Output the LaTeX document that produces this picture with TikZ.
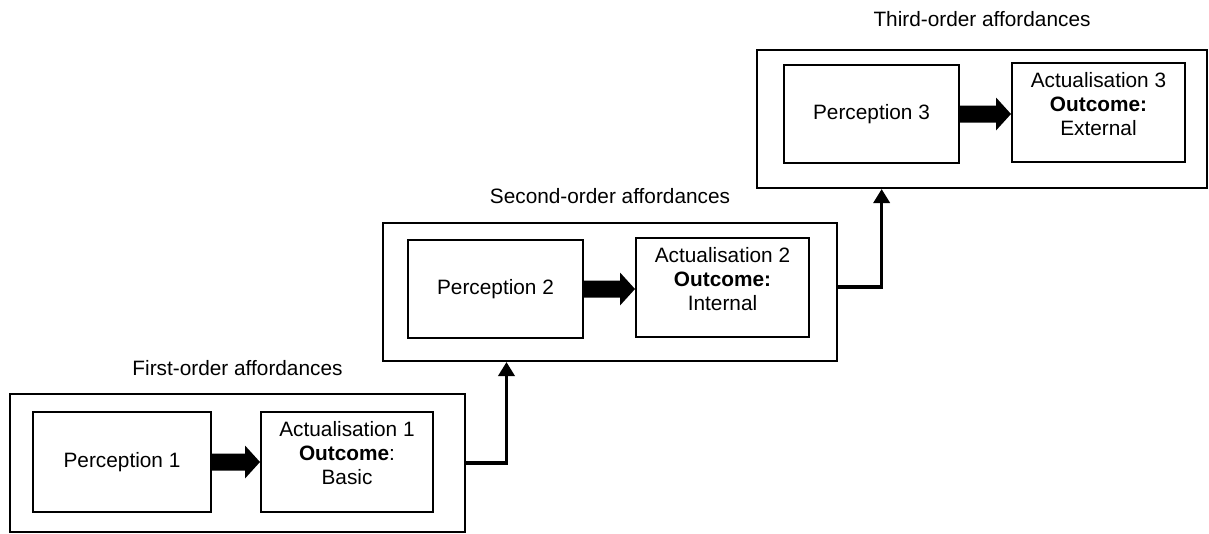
\documentclass[tikz,border=0pt]{standalone}
\usepackage{fontspec}
\setmainfont{Liberation Sans}
\usetikzlibrary{calc,arrows.meta}
\tikzset{
  grp/.style={draw, line width=2pt, inner sep=0pt},
  pbox/.style={draw, line width=2pt, inner sep=0pt, align=center,
    font=\fontsize{20.8}{24}\selectfont},
  abox/.style={draw, line width=2pt, inner sep=0pt, align=center,
    font=\fontsize{20.8}{24}\selectfont, text height=72.5pt, text depth=27pt},
  lab/.style={inner sep=0pt, font=\fontsize{20.8}{24}\selectfont},
  conn/.style={line width=3.5pt, -{Triangle[length=14pt,width=16pt]}},
}
\newcommand\blkarrow[2]{%
  \fill ($(#1.east)+(0,8.5)$) -- ($(#1.east -| #2.west)+(-15,8.5)$)
    -- ($(#1.east -| #2.west)+(-15,16.5)$) -- (#1.east -| #2.west)
    -- ($(#1.east -| #2.west)+(-15,-16.5)$) -- ($(#1.east -| #2.west)+(-15,-8.5)$)
    -- ($(#1.east)+(0,-8.5)$) -- cycle;}
\begin{document}
\begin{tikzpicture}[x=1pt,y=-1pt]
\useasboundingbox (0,0) rectangle (1209,533);
% group 1
\node[grp, minimum width=455pt, minimum height=138pt] (g1) at (237.5,463) {};
\node[pbox, minimum width=178pt, minimum height=100pt] (p1) at (122,462) {Perception 1};
\node[abox, minimum width=172pt] (a1) at (347,462) {Actualisation 1\\\textbf{Outcome}:\\Basic};
\node[lab] (t1) at ($(g1.north)+(0,-25)$) {First-order affordances};
% group 2
\node[grp, minimum width=454pt, minimum height=138pt] (g2) at (610,292) {};
\node[pbox, minimum width=175pt, minimum height=98pt] (p2) at (495.5,289) {Perception 2};
\node[abox, minimum width=173pt] (a2) at (722.5,287.5) {Actualisation 2\\\textbf{Outcome:}\\Internal};
\node[lab] (t2) at ($(g2.north)+(0,-26)$) {Second-order affordances};
% group 3
\node[grp, minimum width=450pt, minimum height=138pt] (g3) at (982,119) {};
\node[pbox, minimum width=175pt, minimum height=98pt] (p3) at (871.5,114) {Perception 3};
\node[abox, minimum width=173pt] (a3) at (1098.5,112.5) {Actualisation 3\\\textbf{Outcome:}\\External};
\node[lab] (t3) at ($(g3.north)+(0,-30)$) {Third-order affordances};
% block arrows
\blkarrow{p1}{a1}
\blkarrow{p2}{a2}
\blkarrow{p3}{a3}
% connectors
\draw[conn] (g1.east) -| ($(g2.south west)!0.273!(g2.south east)$);
\draw[conn] ($(g2.east)+(0,-5)$) -| ($(g3.south west)!0.278!(g3.south east)$);
\end{tikzpicture}
\end{document}
